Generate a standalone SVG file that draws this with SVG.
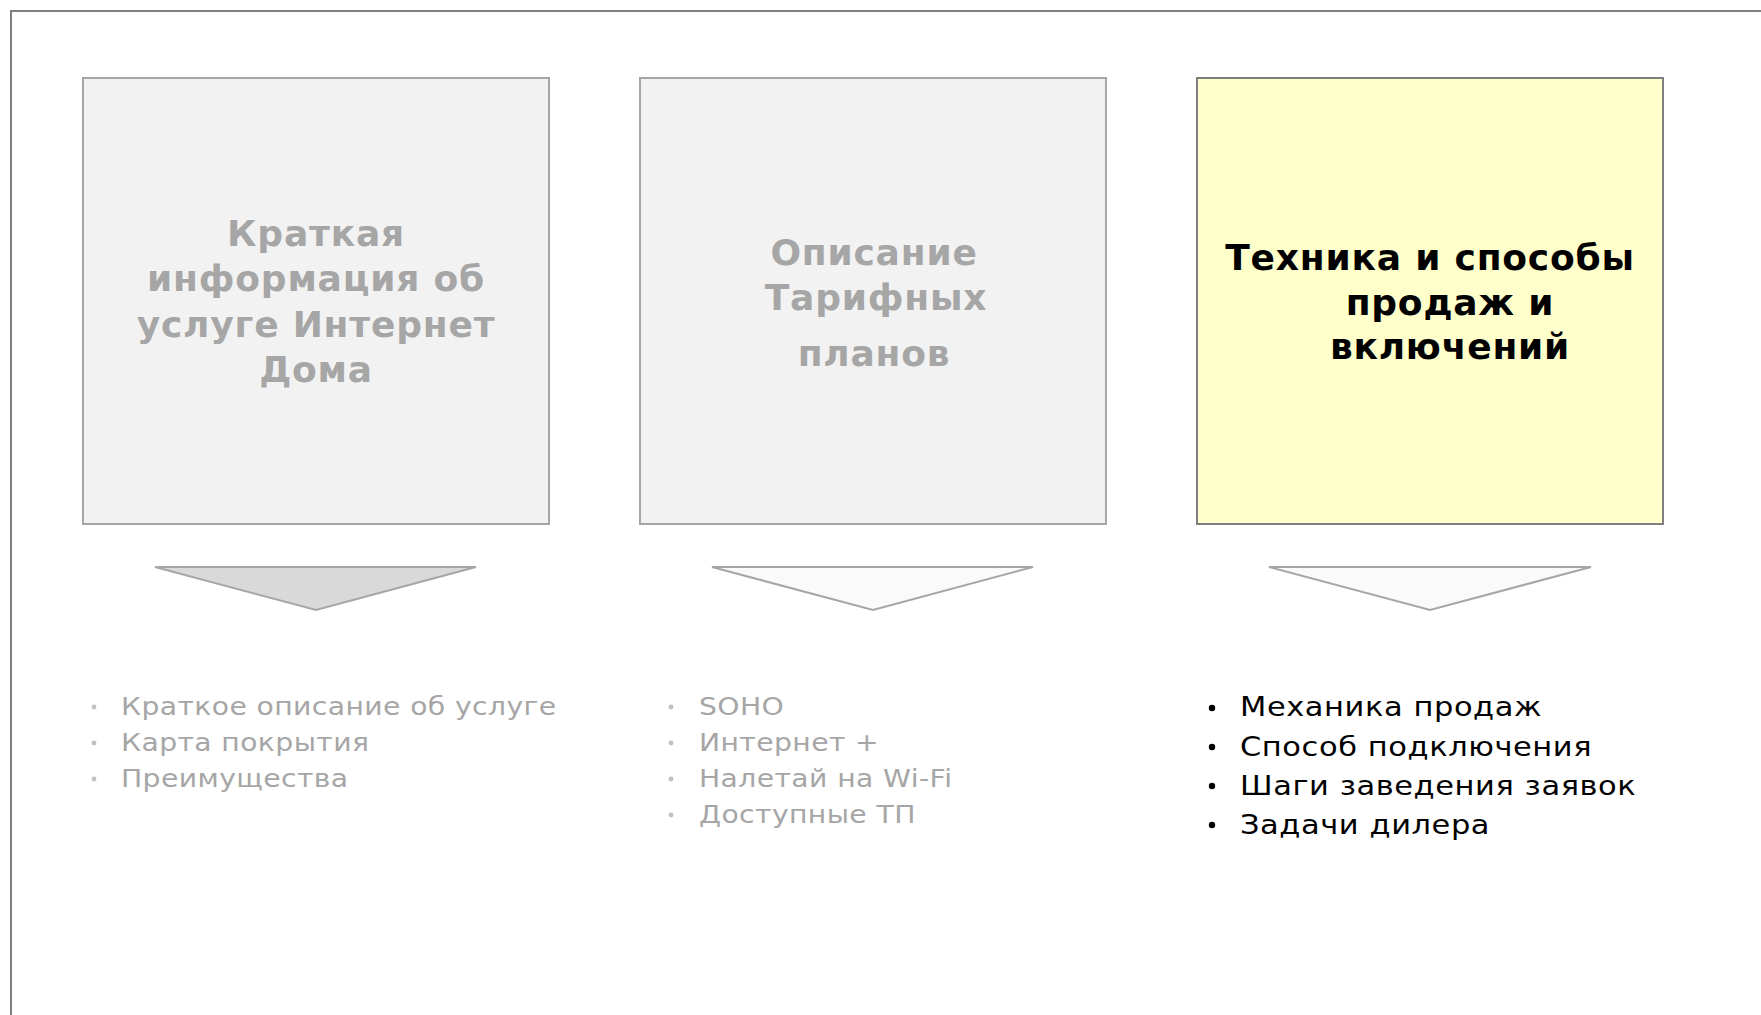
<svg xmlns="http://www.w3.org/2000/svg" width="1761" height="1015" viewBox="0 0 1761 1015">
<style>
.box{fill:#f2f2f2;stroke:#a6a6a6;stroke-width:2}
.hl{fill:#ffffcc;stroke:#7f7f7f;stroke-width:2}
.title{font-family:"DejaVu Sans",Verdana,sans-serif;font-weight:bold;font-size:36px;letter-spacing:0.8px;text-anchor:middle}
.gt{fill:#a6a6a6}
.bt{fill:#000000}
.tri{stroke:#a6a6a6;stroke-width:2;stroke-linejoin:miter}
.li{font-family:"DejaVu Sans",Verdana,sans-serif;font-size:25px;letter-spacing:0.35px}
.li3{font-family:"DejaVu Sans",Verdana,sans-serif;font-size:27px;letter-spacing:0.5px}
.gb{fill:#bfbfbf}
</style>
<rect x="0" y="0" width="1761" height="1015" fill="#ffffff"/>
<rect x="11" y="11" width="1800" height="1100" fill="none" stroke="#7f7f7f" stroke-width="2"/>
<g id="node1">
<rect class="box" x="83" y="78" width="466" height="446"/>
<text class="title gt"><tspan x="316" y="246">Краткая</tspan><tspan x="316" y="291">информация об</tspan><tspan x="316" y="337">услуге Интернет</tspan><tspan x="316" y="382">Дома</tspan></text>
</g>
<g id="node2">
<rect class="box" x="640" y="78" width="466" height="446"/>
<text class="title gt"><tspan x="874" y="265">Описание</tspan><tspan x="876" y="310">Тарифных</tspan><tspan x="874" y="366">планов</tspan></text>
</g>
<g id="node3">
<rect class="hl" x="1197" y="78" width="466" height="446"/>
<text class="title bt"><tspan x="1430" y="270">Техника и способы</tspan><tspan x="1450" y="315">продаж и</tspan><tspan x="1450" y="359">включений</tspan></text>
</g>
<g id="connectors">
<polygon class="tri" points="155,567 476,567 316,610" fill="#d9d9d9"/>
<polygon class="tri" points="712,567 1033,567 873,610" fill="#fafafa"/>
<polygon class="tri" points="1269,567 1591,567 1430,610" fill="#fafafa"/>
</g>
<g id="list1">
<circle class="gb" cx="94" cy="707" r="2.4"/>
<circle class="gb" cx="94" cy="743" r="2.4"/>
<circle class="gb" cx="94" cy="779" r="2.4"/>
<g class="li" fill="#a6a6a6" transform="translate(121 0) scale(1.13 1)">
<text x="0" y="715">Краткое описание об услуге</text>
<text x="0" y="751">Карта покрытия</text>
<text x="0" y="787">Преимущества</text>
</g>
</g>
<g id="list2">
<circle class="gb" cx="671" cy="707" r="2.4"/>
<circle class="gb" cx="671" cy="743" r="2.4"/>
<circle class="gb" cx="671" cy="779" r="2.4"/>
<circle class="gb" cx="671" cy="815" r="2.4"/>
<g class="li" fill="#a6a6a6" transform="translate(699 0) scale(1.13 1)">
<text x="0" y="715">SOHO</text>
<text x="0" y="751">Интернет +</text>
<text x="0" y="787">Налетай на Wi-Fi</text>
<text x="0" y="823">Доступные ТП</text>
</g>
</g>
<g id="list3">
<circle cx="1212" cy="708" r="3.2"/>
<circle cx="1212" cy="747" r="3.2"/>
<circle cx="1212" cy="786" r="3.2"/>
<circle cx="1212" cy="825" r="3.2"/>
<g class="li3" fill="#000000" transform="translate(1240 0) scale(1.13 1)">
<text x="0" y="716">Механика продаж</text>
<text x="0" y="756">Способ подключения</text>
<text x="0" y="795">Шаги заведения заявок</text>
<text x="0" y="834">Задачи дилера</text>
</g>
</g>
</svg>
